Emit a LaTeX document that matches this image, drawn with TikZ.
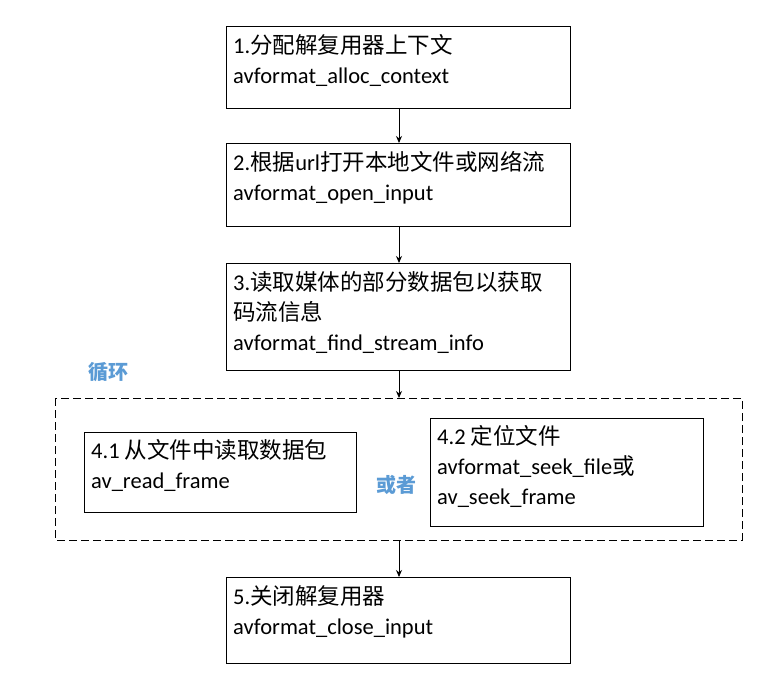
\documentclass[tikz,border=0pt]{standalone}
\usepackage{fontspec}
\setmainfont{Carlito}
\newfontfamily\cjk{Noto Sans CJK SC}
\usetikzlibrary{arrows.meta}
\definecolor{lblue}{HTML}{5B9BD5}
\begin{document}
\begin{tikzpicture}[x=1pt,y=-1pt,
  box/.style={draw,line width=0.9pt},
  lbl/.style={anchor=north west,align=left,font=\fontsize{22.5}{30}\selectfont,inner sep=0pt},
  arr/.style={-{Stealth[length=7pt,width=6pt]},line width=0.9pt},
  blue/.style={text=lblue,font=\fontsize{20}{24}\selectfont\cjk\bfseries}]
\useasboundingbox (0,0) rectangle (779,674);
\draw[box] (226,26) rectangle (570,108);
\node[lbl] (t1) at (233,34) {1.{\cjk 分配解复用器上下文}\\avformat\_alloc\_context};
\draw[box] (226,143) rectangle (570,226);
\node[lbl] (t2) at (233,151) {2.{\cjk 根据}url{\cjk 打开本地文件或网络流}\\avformat\_open\_input};
\draw[box] (226,263) rectangle (570,370);
\node[lbl] (t3) at (233,271) {3.{\cjk 读取媒体的部分数据包以获取}\\{\cjk 码流信息}\\avformat\_find\_stream\_info};
\draw[dashed,line width=0.9pt,dash pattern=on 8pt off 4pt] (55,398) rectangle (742,540);
\draw[box] (84,432) rectangle (356,512);
\node[lbl] (t41) at (91,439) {4.1 {\cjk 从文件中读取数据包}\\av\_read\_frame};
\draw[box] (430,418) rectangle (703,526);
\node[lbl] (t42) at (437,425) {4.2 {\cjk 定位文件}\\avformat\_seek\_file{\cjk 或}\\av\_seek\_frame};
\draw[box] (226,577) rectangle (570,663);
\node[lbl] (t5) at (233,585) {5.{\cjk 关闭解复用器}\\avformat\_close\_input};
\node[blue] (loop) at (108,372) {循环};
\node[blue] (or) at (396,485) {或者};
\coordinate (a1) at (399,108); \coordinate (b1) at (399,143);
\coordinate (a2) at (399,226); \coordinate (b2) at (399,263);
\coordinate (a3) at (399,370); \coordinate (b3) at (399,398);
\coordinate (a4) at (399,540); \coordinate (b4) at (399,577);
\draw[arr] (a1)--(b1); \draw[arr] (a2)--(b2); \draw[arr] (a3)--(b3); \draw[arr] (a4)--(b4);
\end{tikzpicture}
\end{document}
